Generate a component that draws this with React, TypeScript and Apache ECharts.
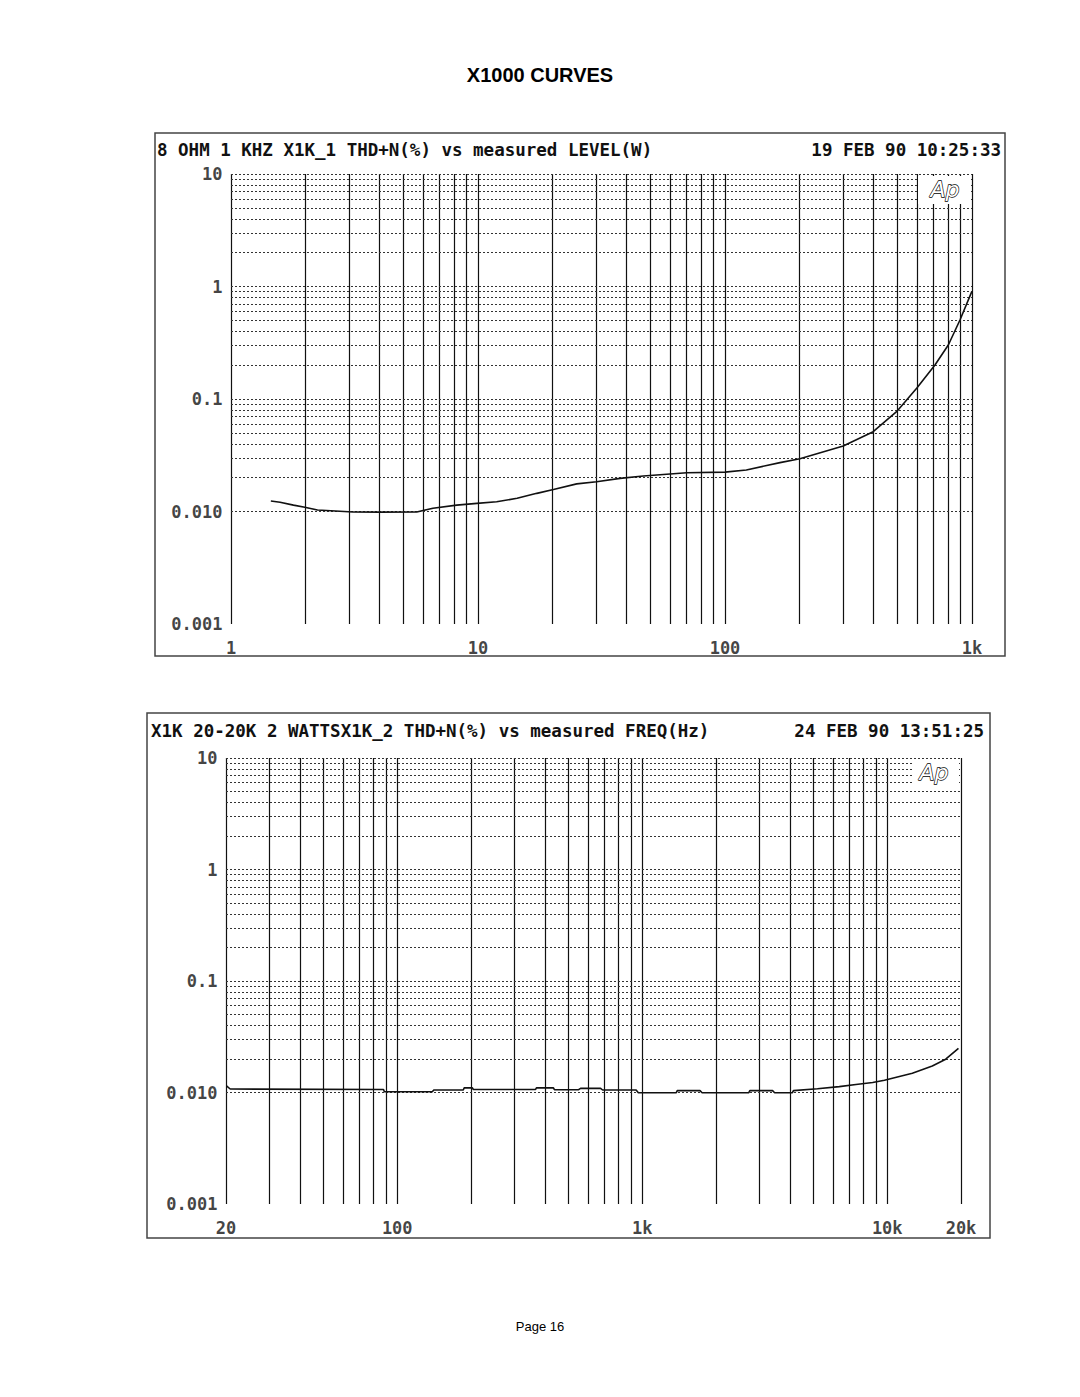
import React, { useEffect, useRef } from "react";
import * as echarts from "echarts";

// ---------- Data ----------
// Top chart: THD+N (%) vs measured level (W), 8 ohm, 1 kHz
const topLevelW = [1.45, 1.58, 1.79, 1.99, 2.24, 3.12, 4.0, 5.65, 6.57, 8.2, 9.9, 11.9, 14.4, 17.3, 20.2, 25.1, 30.2, 37.6, 46.7, 70, 100, 122, 167, 201, 301, 398, 495, 597, 708, 802, 894, 998];
const topThdN = [0.0124, 0.0121, 0.0114, 0.0109, 0.0103, 0.0099, 0.00988, 0.0099, 0.0107, 0.0114, 0.0118, 0.0122, 0.0131, 0.0145, 0.0157, 0.0176, 0.0184, 0.0197, 0.0207, 0.0221, 0.0224, 0.0234, 0.0272, 0.0294, 0.0382, 0.0512, 0.0771, 0.1245, 0.2006, 0.302, 0.504, 0.9];

// Bottom chart: THD+N (%) vs measured frequency (Hz), 2 W
const botFreqHz = [20.1, 20.8, 87.9, 88.6, 139, 141, 186, 187.6, 202.6, 204.5, 367, 370, 434, 438, 550, 560, 676, 689, 944, 964, 1377, 1390, 1721, 1755, 2723, 2749, 3403, 3470, 4102, 4141, 5190, 6370, 7450, 8720, 9740, 12660, 15270, 17320, 19530];
const botThdN = [0.01144, 0.01075, 0.01064, 0.01017, 0.01017, 0.01053, 0.01053, 0.011, 0.011, 0.01064, 0.01064, 0.011, 0.011, 0.01059, 0.01059, 0.0109, 0.0109, 0.01053, 0.01053, 0.00996, 0.00996, 0.0104, 0.0104, 0.00996, 0.00996, 0.0104, 0.0104, 0.00996, 0.00996, 0.0104, 0.0108, 0.0113, 0.0118, 0.0123, 0.0129, 0.0149, 0.0173, 0.0199, 0.0249];

// Tick labels
const yTickValues = [10, 1, 0.1, 0.01, 0.001];
const yTickLabels = ["10", "1", "0.1", "0.010", "0.001"];
const topXTickValues = [1, 10, 100, 1000];
const topXTickLabels = ["1", "10", "100", "1k"];
const botXTickValues = [20, 100, 1000, 10000, 20000];
const botXTickLabels = ["20", "100", "1k", "10k", "20k"];

// Texts
const pageTitle = "X1000 CURVES";
const topHeaderLeft = "8 OHM 1 KHZ X1K_1 THD+N(%) vs measured LEVEL(W)";
const topHeaderRight = "19 FEB 90 10:25:33";
const botHeaderLeft = "X1K 20-20K 2 WATTSX1K_2 THD+N(%) vs measured FREQ(Hz)";
const botHeaderRight = "24 FEB 90 13:51:25";
const footer = "Page 16";

// axis ranges
const topXRange = [1, 1000];
const botXRange = [20, 20000];
const yRange = [0.001, 10];

// helpers for log grid line values (1..9 per decade)
function logLines(min: number, max: number): number[] {
  const out: number[] = [];
  const d0 = Math.floor(Math.log10(min));
  const d1 = Math.ceil(Math.log10(max));
  for (let d = d0; d <= d1; d++) {
    const base = Math.pow(10, d);
    for (let m = 1; m <= 9; m++) {
      const v = parseFloat((m * base).toPrecision(6));
      if (v >= min * 0.9999 && v <= max * 1.0001) out.push(v);
    }
  }
  return out;
}

const MONO = '"DejaVu Sans Mono", "Liberation Mono", monospace';

function gridSeries(idx: number, xr: number[]) {
  const vx = logLines(xr[0], xr[1]);
  const hy = logLines(yRange[0], yRange[1]);
  return {
    type: "line",
    xAxisIndex: idx,
    yAxisIndex: idx,
    data: [[xr[0], yRange[0]]],
    showSymbol: false,
    symbol: "none",
    lineStyle: { width: 0, opacity: 0 },
    silent: true,
    z: 1,
    markLine: {
      silent: true,
      symbol: ["none", "none"],
      label: { show: false },
      animation: false,
      data: [
        ...vx.map((v) => ({ xAxis: v, lineStyle: { color: "#111", width: 1.2, type: "solid" } })),
        ...hy.map((v) => ({ yAxis: v, lineStyle: { color: "#333", width: 1, type: [2, 2] } })),
      ],
    },
  };
}

function dataSeries(idx: number, xs: number[], ys: number[]) {
  return {
    type: "line",
    xAxisIndex: idx,
    yAxisIndex: idx,
    data: xs.map((x, i) => [x, ys[i]]),
    showSymbol: false,
    symbol: "none",
    lineStyle: { color: "#111", width: 1.6 },
    silent: true,
    z: 5,
  };
}

function labelSeries(idx: number, xr: number[], xv: number[], xl: string[]) {
  const labStyle = { fontFamily: MONO, fontWeight: "bold", fontSize: 17, color: "#111" };
  return [
    {
      type: "scatter",
      xAxisIndex: idx,
      yAxisIndex: idx,
      symbolSize: 1,
      itemStyle: { color: "rgba(0,0,0,0)" },
      silent: true,
      z: 6,
      label: { show: true, position: "bottom", distance: 15, formatter: "{b}", ...labStyle },
      data: xv.map((v, i) => ({ name: xl[i], value: [v, yRange[0]] })),
    },
    {
      type: "scatter",
      xAxisIndex: idx,
      yAxisIndex: idx,
      symbolSize: 1,
      itemStyle: { color: "rgba(0,0,0,0)" },
      silent: true,
      z: 6,
      label: { show: true, position: "left", distance: 8, formatter: "{b}", ...labStyle },
      data: yTickValues.map((v, i) => ({ name: yTickLabels[i], value: [xr[0], v] })),
    },
  ];
}

function hiddenAxis(gridIndex: number, min: number, max: number) {
  return {
    gridIndex,
    type: "log",
    logBase: 10,
    min,
    max,
    axisLine: { show: false },
    axisTick: { show: false },
    axisLabel: { show: false },
    splitLine: { show: false },
  };
}

export default function App() {
  const ref = useRef<HTMLDivElement>(null);
  useEffect(() => {
    document.body.style.margin = "0";
    const chart = echarts.init(ref.current!, undefined, { renderer: "svg" });
    const headerFont = `bold 17.5px ${MONO}`;
    const apFont = 'italic 22px "DejaVu Sans", sans-serif';
    const option = {
      animation: false,
      backgroundColor: "#fff",
      grid: [
        { left: 231, top: 174, width: 741, height: 450 },
        { left: 226, top: 758, width: 735, height: 446 },
      ],
      xAxis: [hiddenAxis(0, topXRange[0], topXRange[1]), hiddenAxis(1, botXRange[0], botXRange[1])],
      yAxis: [hiddenAxis(0, yRange[0], yRange[1]), hiddenAxis(1, yRange[0], yRange[1])],
      series: [
        gridSeries(0, topXRange),
        gridSeries(1, botXRange),
        dataSeries(0, topLevelW, topThdN),
        dataSeries(1, botFreqHz, botThdN),
        ...labelSeries(0, topXRange, topXTickValues, topXTickLabels),
        ...labelSeries(1, botXRange, botXTickValues, botXTickLabels),
      ],
      graphic: [
        {
          type: "text",
          x: 540,
          y: 75,
          z: 100,
          style: { text: pageTitle, textAlign: "center", textVerticalAlign: "middle", font: 'bold 20px "Liberation Sans", Arial, sans-serif', fill: "#000" },
        },
        {
          type: "rect",
          z: 100,
          shape: { x: 155, y: 133, width: 850, height: 523 },
          style: { fill: "none", stroke: "#444", lineWidth: 1.5 },
        },
        {
          type: "rect",
          z: 100,
          shape: { x: 147, y: 713, width: 843, height: 525 },
          style: { fill: "none", stroke: "#444", lineWidth: 1.5 },
        },
        {
          type: "text",
          x: 157,
          y: 150,
          z: 100,
          style: { text: topHeaderLeft, textAlign: "left", textVerticalAlign: "middle", font: headerFont, fill: "#111" },
        },
        {
          type: "text",
          x: 1001,
          y: 150,
          z: 100,
          style: { text: topHeaderRight, textAlign: "right", textVerticalAlign: "middle", font: headerFont, fill: "#111" },
        },
        {
          type: "text",
          x: 151,
          y: 731,
          z: 100,
          style: { text: botHeaderLeft, textAlign: "left", textVerticalAlign: "middle", font: headerFont, fill: "#111" },
        },
        {
          type: "text",
          x: 984,
          y: 731,
          z: 100,
          style: { text: botHeaderRight, textAlign: "right", textVerticalAlign: "middle", font: headerFont, fill: "#111" },
        },
        // Ap logos
        {
          type: "rect",
          z: 100,
          shape: { x: 918, y: 176, width: 52, height: 28 },
          style: { fill: "#fff", stroke: "none" },
        },
        {
          type: "text",
          x: 945,
          y: 189,
          z: 101,
          style: { text: "Ap", textAlign: "center", textVerticalAlign: "middle", font: apFont, fill: "#fff", stroke: "#000", lineWidth: 1.3 },
        },
        {
          type: "rect",
          z: 100,
          shape: { x: 913, y: 760, width: 46, height: 26 },
          style: { fill: "#fff", stroke: "none" },
        },
        {
          type: "text",
          x: 934,
          y: 772,
          z: 101,
          style: { text: "Ap", textAlign: "center", textVerticalAlign: "middle", font: apFont, fill: "#fff", stroke: "#000", lineWidth: 1.3 },
        },
        {
          type: "text",
          x: 540,
          y: 1326,
          z: 100,
          style: { text: footer, textAlign: "center", textVerticalAlign: "middle", font: '13px "Liberation Sans", Arial, sans-serif', fill: "#000" },
        },
      ],
    };
    chart.setOption(option as any);
    return () => chart.dispose();
  }, []);
  return <div ref={ref} style={{ position: "absolute", left: 0, top: 0, width: 1080, height: 1397 }} />;
}
